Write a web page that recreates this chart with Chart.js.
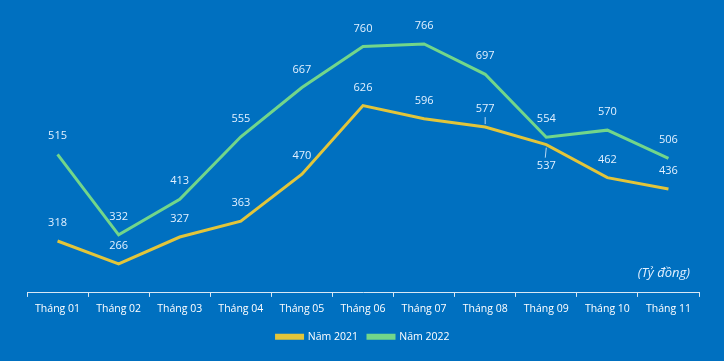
<!DOCTYPE html>
<html>
<head>
<meta charset="utf-8">
<script src="https://cdn.jsdelivr.net/npm/chart.js@4.4.1/dist/chart.umd.min.js"></script>
<style>
  html, body { margin: 0; padding: 0; background: #0070c0; }
  #wrap { width: 724px; height: 361px; position: relative; }
</style>
</head>
<body>
<div id="wrap"><canvas id="chart" width="724" height="361"></canvas></div>
<script>
const months = ["Tháng 01", "Tháng 02", "Tháng 03", "Tháng 04", "Tháng 05", "Tháng 06",
  "Tháng 07", "Tháng 08", "Tháng 09", "Tháng 10", "Tháng 11"];
const nam2021 = [318, 266, 327, 363, 470, 626, 596, 577, 537, 462, 436];
const nam2022 = [515, 332, 413, 555, 667, 760, 766, 697, 554, 570, 506];
// nhan nam duoi diem (kem duong dan)
const below2021 = [8];
const leader2021 = [7, 8];

const FONT = "'Open Sans', 'Noto Sans', sans-serif";
const labelColor = "#e3f1ff";

const labelsPlugin = {
  id: "valueLabels",
  afterDatasetsDraw(chart) {
    const ctx = chart.ctx;
    ctx.save();
    ctx.font = "11px " + FONT;
    ctx.fillStyle = labelColor;
    ctx.textAlign = "center";
    ctx.textBaseline = "middle";
    chart.data.datasets.forEach((ds, di) => {
      const meta = chart.getDatasetMeta(di);
      meta.data.forEach((pt, i) => {
        const isBelow = di === 0 && below2021.includes(i);
        const y = isBelow ? pt.y + 21 : pt.y - 18;
        ctx.fillText(String(ds.data[i]), pt.x, y);
        if (di === 0 && leader2021.includes(i)) {
          ctx.strokeStyle = labelColor;
          ctx.lineWidth = 0.8;
          ctx.beginPath();
          if (isBelow) { ctx.moveTo(pt.x - 1, pt.y + 13); ctx.lineTo(pt.x, pt.y + 3); }
          else { ctx.moveTo(pt.x, pt.y - 10); ctx.lineTo(pt.x, pt.y - 3); }
          ctx.stroke();
        }
      });
    });
    // don vi
    ctx.font = "italic 13px " + FONT;
    ctx.textAlign = "right";
    ctx.fillText("(Tỷ đồng)", 690, 273);
    ctx.restore();
  }
};

new Chart(document.getElementById("chart"), {
  type: "line",
  data: {
    labels: months,
    datasets: [
      { label: "Năm 2021", data: nam2021, borderColor: "#e2c53a", backgroundColor: "#e2c53a",
        borderWidth: 3, pointRadius: 0, tension: 0 },
      { label: "Năm 2022", data: nam2022, borderColor: "#72d68a", backgroundColor: "#72d68a",
        borderWidth: 3, pointRadius: 0, tension: 0 }
    ]
  },
  options: {
    responsive: false,
    animation: false,
    layout: { padding: { left: 27, right: 25, top: 29, bottom: 9 } },
    plugins: {
      tooltip: { enabled: false },
      legend: {
        position: "bottom",
        labels: {
          color: "#ffffff",
          font: { family: FONT, size: 10.5 },
          boxWidth: 26,
          boxHeight: 3,
          padding: 10
        }
      }
    },
    scales: {
      x: {
        offset: true,
        grid: { offset: true, drawOnChartArea: false, color: "#d8e8f5", tickLength: 4 },
        border: { color: "#d8e8f5", width: 1 },
        ticks: { color: "#ffffff", font: { family: FONT, size: 10.5 }, padding: 6, maxRotation: 0 }
      },
      y: {
        display: false,
        min: 200,
        max: 800
      }
    }
  },
  plugins: [labelsPlugin]
});
</script>
</body>
</html>
